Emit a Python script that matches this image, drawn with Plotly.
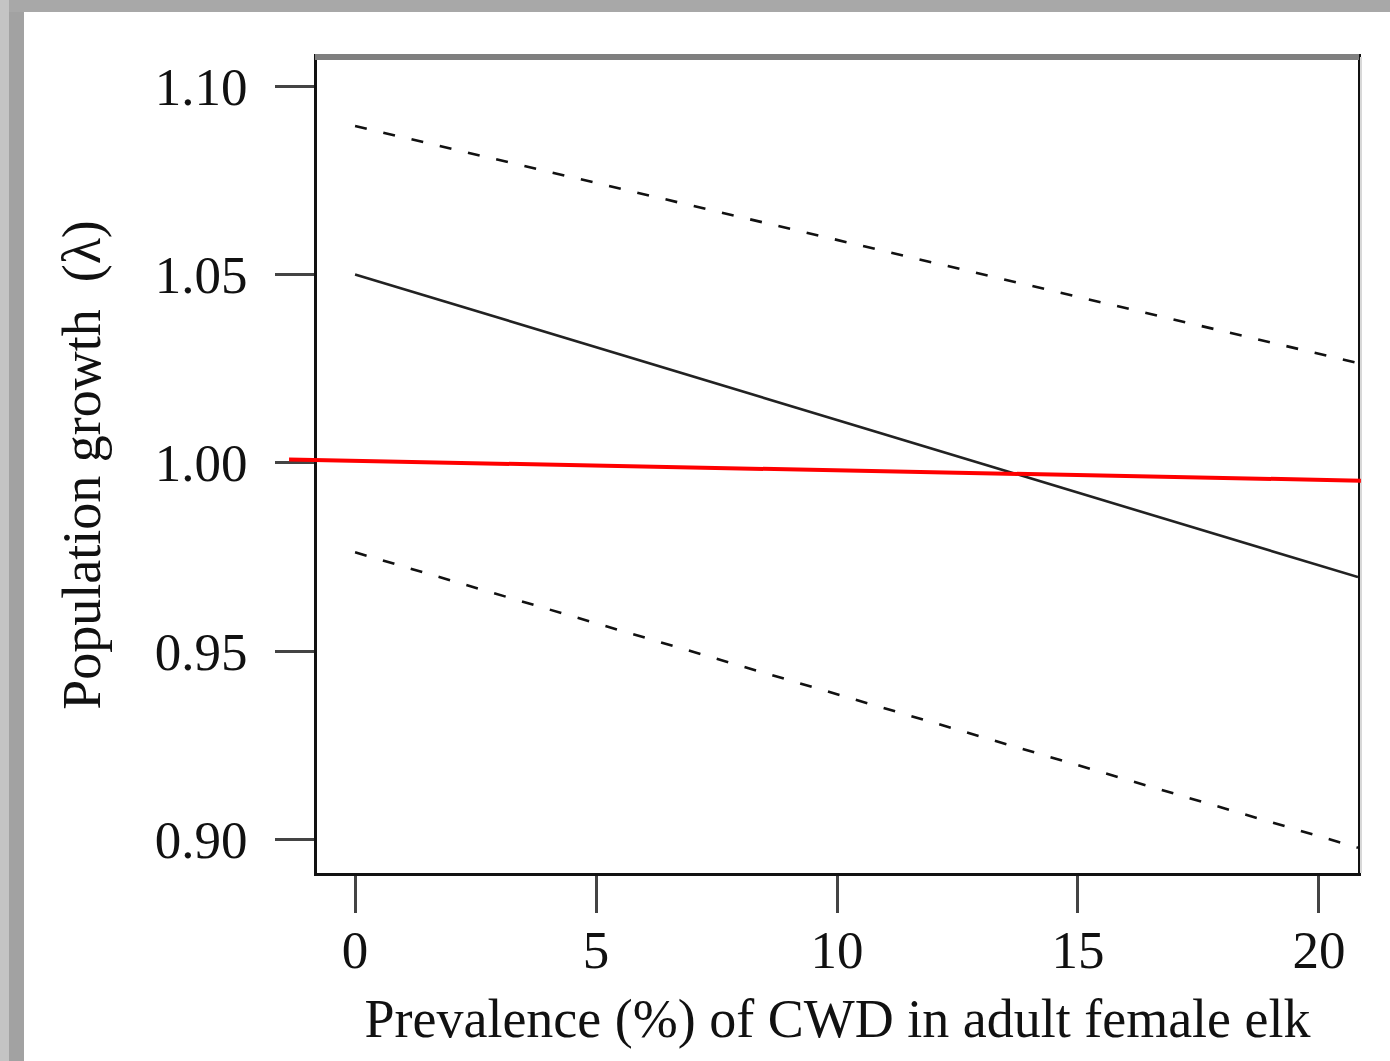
import plotly.graph_objects as go

# ---- data ----
prevalence = [0, 20.81]
lambda_mean = [1.050, 0.9697]
lambda_upper = [1.0894, 1.0265]
lambda_lower = [0.9763, 0.8979]

ref_x = [-1.37, 20.87]
ref_y = [1.0009, 0.9953]

x_ticks = [0, 5, 10, 15, 20]
y_ticks = [0.90, 0.95, 1.00, 1.05, 1.10]

x_range = [-0.79, 20.81]
y_range = [0.8912, 1.1077]

W, H = 1390, 1061
L, R, T, B = 317, 32, 57, 188
FONT = "Liberation Serif, Times New Roman, serif"

fig = go.Figure()
fig.add_trace(go.Scatter(x=prevalence, y=lambda_upper, mode="lines",
                         line=dict(color="#111111", width=2.6, dash="12px,17px"),
                         showlegend=False))
fig.add_trace(go.Scatter(x=prevalence, y=lambda_lower, mode="lines",
                         line=dict(color="#111111", width=2.6, dash="12px,17px"),
                         showlegend=False))
fig.add_trace(go.Scatter(x=prevalence, y=lambda_mean, mode="lines",
                         line=dict(color="#222222", width=2.6),
                         showlegend=False))

pw = W - L - R
ph = H - T - B


def px_to_paper_x(px):
    return (px - L) / pw


def px_to_paper_y(py):
    return 1 - (py - T) / ph


def data_to_paper_x(x):
    return (x - x_range[0]) / (x_range[1] - x_range[0])


shapes = []
# outer gray frame (left and top bands)
shapes.append(dict(type="rect", xref="paper", yref="paper", layer="below",
                   x0=px_to_paper_x(0), x1=px_to_paper_x(9),
                   y0=px_to_paper_y(H), y1=px_to_paper_y(0),
                   fillcolor="#c4c4c4", line=dict(width=0)))
shapes.append(dict(type="rect", xref="paper", yref="paper", layer="below",
                   x0=px_to_paper_x(9), x1=px_to_paper_x(24),
                   y0=px_to_paper_y(H), y1=px_to_paper_y(0),
                   fillcolor="#a2a2a2", line=dict(width=0)))
shapes.append(dict(type="rect", xref="paper", yref="paper", layer="below",
                   x0=px_to_paper_x(9), x1=px_to_paper_x(W),
                   y0=px_to_paper_y(12), y1=px_to_paper_y(0),
                   fillcolor="#a8a8a8", line=dict(width=0)))
# gray top edge of the plot box
shapes.append(dict(type="line", xref="paper", yref="paper",
                   x0=px_to_paper_x(315), x1=px_to_paper_x(1359),
                   y0=px_to_paper_y(57), y1=px_to_paper_y(57),
                   line=dict(color="#7f7f7f", width=6)))
# light shadow on the right edge
shapes.append(dict(type="line", xref="paper", yref="paper",
                   x0=px_to_paper_x(1361), x1=px_to_paper_x(1361),
                   y0=px_to_paper_y(57), y1=px_to_paper_y(873),
                   line=dict(color="#d8d8d8", width=2)))
# red reference line (extends past the plot box)
shapes.append(dict(type="line", xref="paper", yref="y",
                   x0=data_to_paper_x(ref_x[0]), x1=data_to_paper_x(ref_x[1]),
                   y0=ref_y[0], y1=ref_y[1],
                   line=dict(color="#ff0000", width=4)))

fig.update_layout(
    width=W, height=H,
    margin=dict(l=L, r=R, t=T, b=B, pad=0),
    paper_bgcolor="white", plot_bgcolor="white",
    font=dict(family=FONT, color="#111111", size=53),
    shapes=shapes,
    showlegend=False,
)

fig.update_xaxes(
    range=x_range, tickvals=x_ticks, ticktext=[str(v) for v in x_ticks],
    ticks="outside", ticklen=37, tickwidth=3, tickcolor="#444444",
    showline=True, linewidth=3, linecolor="#111111", mirror=True,
    showgrid=False, zeroline=False,
    tickfont=dict(family=FONT, size=53, color="#111111"),
    ticklabelstandoff=-9,
    title=dict(text="Prevalence (%) of CWD in adult female elk",
               font=dict(family=FONT, size=54, color="#111111"), standoff=22),
    automargin=False,
)
fig.update_yaxes(
    range=y_range, tickvals=y_ticks, ticktext=["%.2f" % v for v in y_ticks],
    ticks="outside", ticklen=39, tickwidth=3, tickcolor="#444444",
    showline=True, linewidth=3, linecolor="#111111", mirror=True,
    showgrid=False, zeroline=False,
    tickfont=dict(family=FONT, size=53, color="#111111"),
    ticklabelstandoff=17,
    title=dict(text="Population growth  (λ)",
               font=dict(family=FONT, size=54, color="#111111"), standoff=37),
    automargin=False,
)

fig.write_html("out.html",
               config={"displayModeBar": False},
               post_script="document.body.style.margin='0px';document.body.style.padding='0px';")
